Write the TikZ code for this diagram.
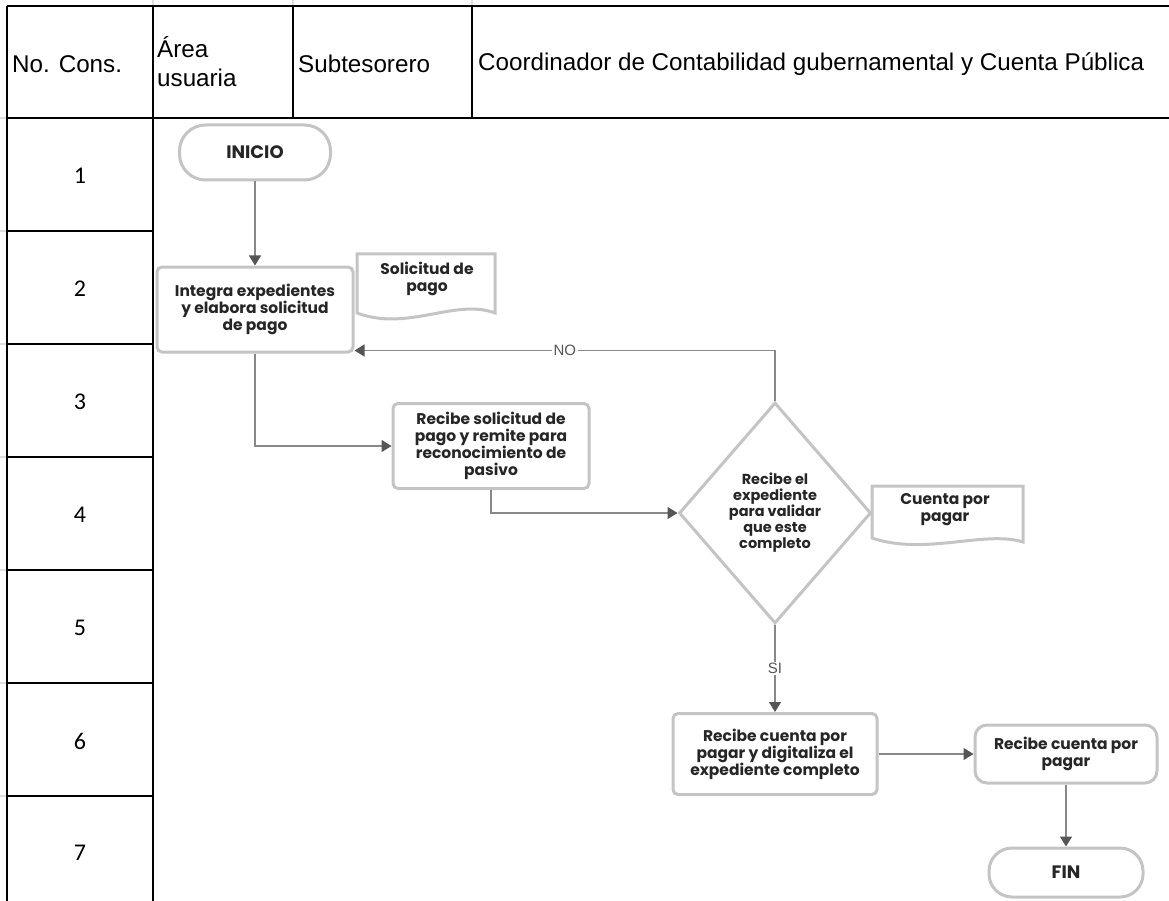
\documentclass[tikz,border=0pt]{standalone}
\usepackage{fontspec}
\setmainfont{Liberation Sans}
\newfontfamily\flowfont{Poppins}
\newfontfamily\numfont{Carlito}
\usetikzlibrary{shapes.geometric,arrows.meta,calc}

\definecolor{boxgray}{HTML}{C4C4C4}
\definecolor{linkgray}{HTML}{888888}
\definecolor{tipgray}{HTML}{555555}
\definecolor{inkdark}{HTML}{262626}
\definecolor{gridfaint}{HTML}{DDDDDD}

\begin{document}
\begin{tikzpicture}[x=1pt,y=-1pt,
  grid/.style={draw=black,line width=1.3pt},
  faint/.style={draw=gridfaint,line width=1.2pt},
  headtext/.style={anchor=west,inner sep=0pt,align=left,
    font=\fontsize{24.2}{29}\selectfont},
  numtext/.style={inner sep=0pt,font=\numfont\fontsize{24}{28}\selectfont},
  stepbox/.style={draw=boxgray,line width=3pt,fill=white,rounded corners=5pt,
    inner sep=0pt,align=center,text=inkdark,
    font=\flowfont\bfseries\fontsize{15.5}{17}\selectfont},
  endpoint/.style={stepbox,font=\flowfont\bfseries\fontsize{18}{20}\selectfont},
  decision/.style={diamond,aspect=0.87,draw=boxgray,line width=3pt,fill=white,
    inner sep=0pt,align=center,text=inkdark,
    font=\flowfont\bfseries\fontsize{14.5}{16}\selectfont},
  doctext/.style={inner sep=0pt,align=center,text=inkdark,
    font=\flowfont\bfseries\fontsize{15.5}{17}\selectfont},
  docshape/.style={draw=boxgray,line width=3pt,fill=white},
  link/.style={draw=linkgray,line width=1.5pt,
    -{Triangle[length=10pt,width=12pt,color=tipgray]}},
  flag/.style={fill=white,inner sep=1.5pt,text=tipgray,
    font=\fontsize{15}{17}\selectfont}
]
\useasboundingbox (0,0) rectangle (1169,901);

% ---- table frame ----
\draw[faint] (153,0) -- (153,6) (293,0) -- (293,6) (472,0) -- (472,6);
\foreach \yy in {118,231,344,457,570,683,796}
  \draw[faint] (0,\yy) -- (7,\yy);
\draw[grid] (7,6) -- (1169,6);
\draw[grid] (7,118) -- (1169,118);
\draw[grid] (7,6) -- (7,901);
\draw[grid] (153,6) -- (153,901);
\draw[grid] (293,6) -- (293,118);
\draw[grid] (472,6) -- (472,118);
\foreach \yy in {231,344,457,570,683,796}
  \draw[grid] (7,\yy) -- (153,\yy);

% ---- header ----
\node[headtext] (hcons)  at (12,64)  {No. Cons.};
\node[headtext] (harea)  at (157,62) {Área\\usuaria};
\node[headtext] (hsub)   at (298,64) {Subtesorero};
\node[headtext] (hcoord) at (478,64) {Coordinador de Contabilidad gubernamental y Cuenta Pública};

% ---- step numbers ----
\foreach \n/\yy in {1/176,2/289,3/402,4/515,5/628,6/741,7/853}
  \node[numtext] (num\n) at (80,\yy) {\n};

% ---- flow nodes ----
\node[endpoint,rounded corners=26pt,minimum width=151pt,minimum height=55pt]
  (inicio) at (255,152.5) {INICIO};
\node[stepbox,minimum width=196pt,minimum height=85pt]
  (box1) at (255,309.5) {Integra expedientes\\y elabora solicitud\\de pago};
\node[stepbox,minimum width=196pt,minimum height=85pt]
  (box2) at (491,446) {Recibe solicitud de\\pago y remite para\\reconocimiento de\\pasivo};
\node[decision,minimum width=192pt,minimum height=221pt]
  (dia) at (775,513) {Recibe el\\expediente\\para validar\\que este\\completo};
\node[stepbox,minimum width=204pt,minimum height=81pt]
  (box3) at (775,754) {Recibe cuenta por\\pagar y digitaliza el\\expediente completo};
\node[stepbox,rounded corners=12pt,minimum width=182pt,minimum height=58pt]
  (box4) at (1066,754) {Recibe cuenta por\\pagar};
\node[endpoint,rounded corners=23pt,minimum width=154pt,minimum height=49pt]
  (fin) at (1066,872.5) {FIN};

% ---- documents ----
\draw[docshape] (357,254) -- (495,254) -- (495,313)
  .. controls (455,298) and (408,332) .. (357,313) -- cycle;
\node[doctext] (doc1) at (427,279) {Solicitud de\\pago};
\draw[docshape] (872,486) -- (1023,486) -- (1023,542)
  .. controls (985,530) and (925,556) .. (872,538) -- cycle;
\node[doctext] (doc2) at (945,510) {Cuenta por\\pagar};

% ---- connectors ----
\coordinate (noend) at ($(box1.south east)+(0,-3)$);
\draw[link] (inicio.south) -- (box1.north);
\draw[link] (box1.south) |- (box2.west);
\draw[link] (box2.south) |- (dia.west);
\draw[link] (dia.north) |- node[flag,pos=0.75] {NO} (noend);
\draw[link] (dia.south) -- node[flag] {SI} (box3.north);
\draw[link] (box3.east) -- (box4.west);
\draw[link] (box4.south) -- (fin.north);
\end{tikzpicture}
\end{document}
